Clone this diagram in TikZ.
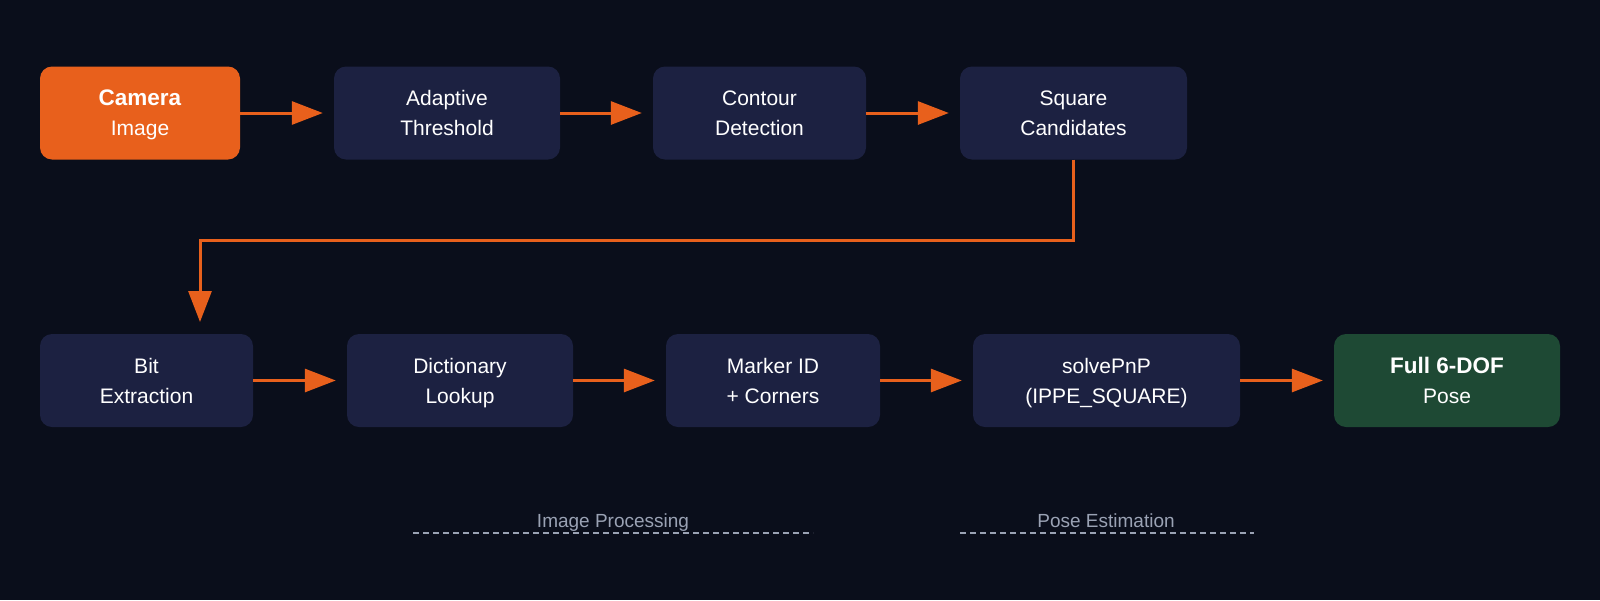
\documentclass[tikz,border=0pt]{standalone}
\usepackage{fontspec}
\setmainfont{Liberation Sans}
\usepackage{tikz}
\usetikzlibrary{positioning, arrows.meta}
\definecolor{bgnavy}{HTML}{0A0E1B}
\definecolor{boxnavy}{HTML}{1C2141}
\definecolor{camorange}{HTML}{E8601C}
\definecolor{posegreen}{HTML}{1E4934}
\definecolor{labelgray}{HTML}{9AA2B4}
\newcommand{\lnstrut}{\rule[-7.3pt]{0pt}{30pt}}
\newcommand{\headline}[1]{{\fontsize{22.5}{30}\selectfont\bfseries #1}}

\begin{document}
\begin{tikzpicture}[x=1pt, y=-1pt,
		stage/.style={draw=none, fill=boxnavy, rounded corners=12pt, minimum height=93pt,
			align=center, text=white, font=\fontsize{21}{30}\selectfont},
		flow/.style={-{Triangle[length=31pt, width=23pt]}, camorange, line width=3pt, shorten >=11pt},
		group/.style={labelgray, dash pattern=on 6pt off 4pt, line width=1.2pt},
		grouplabel/.style={labelgray, font=\fontsize{19}{22}\selectfont, text height=13.6pt, text depth=0pt, anchor=base}]
		% Background and margins
		\fill[bgnavy] (0, 0) rectangle (1600, 600);
		\useasboundingbox (0, 0) rectangle (1600, 600);
		
		% Top row
		\node[stage, fill=camorange, minimum width=200pt] (camera) at (140, 113) {\headline{Camera}\lnstrut\\Image\lnstrut};
		\node[stage, minimum width=226pt] (thresh) at (447, 113) {Adaptive\lnstrut\\Threshold\lnstrut};
		\node[stage, minimum width=213pt] (contour) at (759.5, 113) {Contour\lnstrut\\Detection\lnstrut};
		\node[stage, minimum width=227pt] (square) at (1073.5, 113) {Square\lnstrut\\Candidates\lnstrut};
		
		% Bottom row
		\node[stage, minimum width=213pt] (bits) at (146.5, 380.5) {Bit\lnstrut\\Extraction\lnstrut};
		\node[stage, minimum width=226pt] (dict) at (460, 380.5) {Dictionary\lnstrut\\Lookup\lnstrut};
		\node[stage, minimum width=214pt] (marker) at (773, 380.5) {Marker ID\lnstrut\\+ Corners\lnstrut};
		\node[stage, minimum width=267pt] (pnp) at (1106.5, 380.5) {solvePnP\lnstrut\\(IPPE\_SQUARE)\lnstrut};
		\node[stage, fill=posegreen, minimum width=226pt] (pose) at (1447, 380.5) {\headline{Full 6-DOF}\lnstrut\\Pose\lnstrut};
		
		% Connectors
		\draw[flow] (camera) -- (thresh);
		\draw[flow] (thresh) -- (contour);
		\draw[flow] (contour) -- (square);
		\coordinate (turn) at (1073.5, 240);
		\coordinate (drop) at (200, 240);
		\coordinate (entry) at (200, 334);
		\draw[flow, shorten >=12pt] (square.south) -- (turn) -- (drop) -- (entry);
		\draw[flow] (bits) -- (dict);
		\draw[flow] (dict) -- (marker);
		\draw[flow] (marker) -- (pnp);
		\draw[flow] (pnp) -- (pose);
		
		% Group labels
		\node[grouplabel] (imglabel) at (613, 527) {Image Processing};
		\draw[group] (413, 533) -- (813, 533);
		\node[grouplabel] (poselabel) at (1106, 527) {Pose Estimation};
		\draw[group] (960, 533) -- (1254, 533);
	\end{tikzpicture}
\end{document}
